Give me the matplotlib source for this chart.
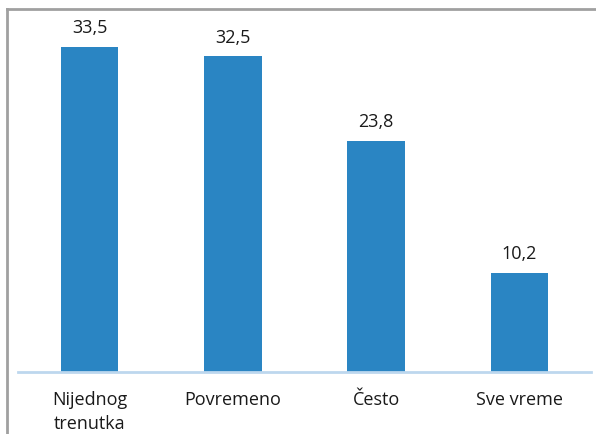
import matplotlib.pyplot as plt
from matplotlib.lines import Line2D

categories = ["Nijednog\ntrenutka", "Povremeno", "Često", "Sve vreme"]
values = [33.5, 32.5, 23.8, 10.2]
value_labels = ["33,5", "32,5", "23,8", "10,2"]

W, H = 596, 434
fig = plt.figure(figsize=(W / 100, H / 100), dpi=100)
plt.rcParams['font.family'] = ['Open Sans', 'DejaVu Sans']

# axes placed in pixel terms
ax = fig.add_axes([18 / W, (H - 372) / H, (591 - 18) / W, (372 - 32) / H])
x = range(len(categories))
ax.bar(x, values, width=0.4, color='#2A85C3')
ax.set_xlim(-0.5, 3.5)
ax.set_ylim(0, 35)

for i, v in enumerate(values):
    ax.annotate(value_labels[i], (i, v), xytext=(0, 7), textcoords='offset points',
                ha='center', va='bottom', fontsize=13, color='#1a1a1a')

for s in ['top', 'right', 'left']:
    ax.spines[s].set_visible(False)
ax.spines['bottom'].set_color('#BDD7EE')
ax.spines['bottom'].set_linewidth(2)
ax.set_yticks([])
ax.set_xticks(list(x))
ax.set_xticklabels(categories, fontsize=13, color='#1a1a1a', linespacing=1.4)
ax.tick_params(axis='x', length=0, pad=14)

# outer frame (only top and left visible in the crop)
fig.add_artist(Line2D([7.5 / W, 1], [1 - 9 / H, 1 - 9 / H], color='#A0A0A0', lw=2))
fig.add_artist(Line2D([7.5 / W, 7.5 / W], [0, 1 - 9 / H], color='#A0A0A0', lw=2))

fig.savefig('out.png', dpi=100)
